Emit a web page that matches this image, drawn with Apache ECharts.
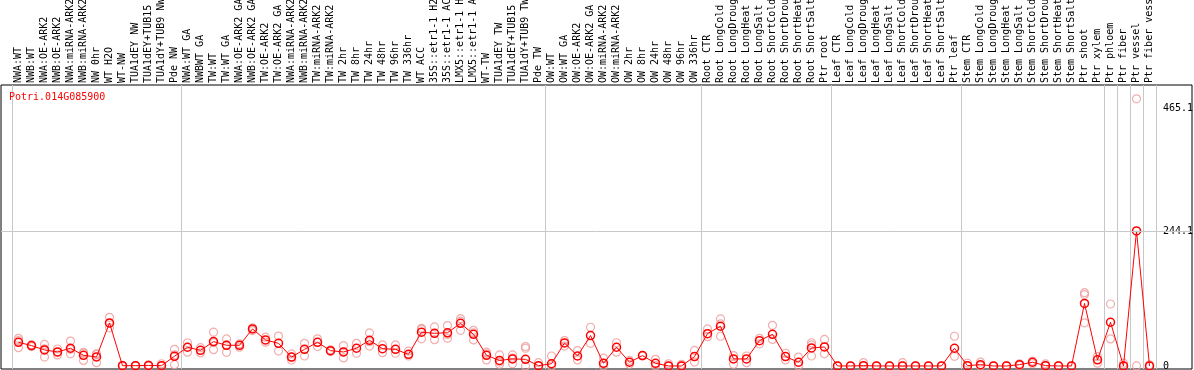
<!DOCTYPE html>
<html>
<head>
<meta charset="utf-8">
<script src="https://cdn.jsdelivr.net/npm/echarts@6/dist/echarts.min.js"></script>
<style>
  html, body { margin: 0; padding: 0; background: #fff; }
  #chart { width: 1194px; height: 370px; }
</style>
</head>
<body>
<div id="chart"></div>
<script>
// sample names, in plot order
var categories = [
  'NWA:WT', 'NWB:WT', 'NWA:OE-ARK2', 'NWB:OE-ARK2', 'NWA:miRNA-ARK2', 'NWB:miRNA-ARK2',
  'NW 0hr', 'WT H2O', 'WT-NW', 'TUA1dEY NW', 'TUA1dEY+TUB15 NW', 'TUA1dY+TUB9 NW', 'Pde NW',
  'NWA:WT GA', 'NWBWT GA', 'TW:WT', 'TW:WT GA', 'NWA:OE-ARK2 GA', 'NWB:OE-ARK2 GA',
  'TW:OE-ARK2', 'TW:OE-ARK2 GA', 'NWA:miRNA-ARK2 GA', 'NWB:miRNA-ARK2 GA', 'TW:miRNA-ARK2',
  'TW:miRNA-ARK2', 'TW 2hr', 'TW 8hr', 'TW 24hr', 'TW 48hr', 'TW 96hr', 'TW 336hr', 'WT ACC',
  '35S::etr1-1 H2O', '35S::etr1-1 ACC', 'LMX5::etr1-1 H2O', 'LMX5::etr1-1 ACC', 'WT-TW',
  'TUA1dEY TW', 'TUA1dEY+TUB15 TW', 'TUA1dY+TUB9 TW', 'Pde TW',
  'OW:WT', 'OW:WT GA', 'OW:OE-ARK2', 'OW:OE-ARK2 GA', 'OW:miRNA-ARK2', 'OW:miRNA-ARK2',
  'OW 2hr', 'OW 8hr', 'OW 24hr', 'OW 48hr', 'OW 96hr', 'OW 336hr',
  'Root CTR', 'Root LongCold', 'Root LongDrought', 'Root LongHeat', 'Root LongSalt',
  'Root ShortCold', 'Root ShortDrought', 'Root ShortHeat', 'Root ShortSalt', 'Ptr root',
  'Leaf CTR', 'Leaf LongCold', 'Leaf LongDrought', 'Leaf LongHeat', 'Leaf LongSalt',
  'Leaf ShortCold', 'Leaf ShortDrought', 'Leaf ShortHeat', 'Leaf ShortSalt', 'Ptr leaf',
  'Stem CTR', 'Stem LongCold', 'Stem LongDrought', 'Stem LongHeat', 'Stem LongSalt',
  'Stem ShortCold', 'Stem ShortDrought', 'Stem ShortHeat', 'Stem ShortSalt', 'Ptr shoot',
  'Ptr xylem', 'Ptr phloem', 'Ptr fiber', 'Ptr vessel', 'Ptr fiber vessel'
];

// index of the first sample of each study (gray separators)
var groupStarts = [0, 13, 41, 53, 63, 73, 84, 85, 86, 87];

// mean expression per sample
var means = [
  42.8, 36.8, 29, 25.3, 32, 19.3, 16.3, 77.8, 0.5, 0.5, 1, 0.5, 17.5,
  33.8, 28.3, 44, 37.4, 37.4, 67, 47, 41, 16, 30, 42.8, 27.7, 25.3, 32, 46.4,
  31.3, 30, 21, 61, 59, 60, 77, 57.3, 19.3, 10, 12.7, 12, 0.6,
  4, 41.6, 18, 55, 4.8, 33.8, 6.7, 18.7, 4.8, 0, 0, 17,
  58.4, 71.8, 12.7, 12.7, 45.8, 57.3, 17, 6.7, 32.5, 34.4,
  0, 0, 0.6, 0, 0, 0, 0, 0, 0, 32,
  0.6, 2.4, 0, 0, 2.4, 6.7, 0.6, 0, 0, 113, 11,
  79, 0, 244.1, 0
];

// individual replicates per sample
var replicates = [
  [50, 33, 46], [38, 35], [39, 16, 31], [30.7, 20, 25], [45, 22, 30], [24.7, 10, 23],
  [21, 6, 22], [88, 69, 77], [0, 1], [0, 1], [0, 2], [4, 0], [30, 2.4, 20],
  [42, 25], [33, 23.5], [61, 29.5, 42], [48.8, 24.7, 38], [40, 34], [69, 64], [52, 43],
  [54, 27], [21.7, 10.8, 16], [41, 18], [49, 35], [29, 26], [36.8, 14.5, 25], [41, 23],
  [59.7, 36, 44], [38, 24], [38, 23], [27, 18], [68, 49, 66], [70.5, 47.6], [73, 50, 57],
  [85.5, 64.5, 81], [64.5, 47, 60], [25, 11, 22], [20, 3, 7], [20, 4, 14], [35, 32, 0], [6, 0],
  [18, 0], [45.8, 36], [27.7, 11], [70, 41], [14, 0], [42, 25], [10, 3], [19, 18],
  [12, 0.6], [4, 0], [3, 0], [28, 7],
  [67, 53], [85, 53.7, 76], [18.7, 3], [18, 6], [50, 40], [73.5, 48], [23, 11],
  [16, 0.6], [42, 18, 38], [48, 22],
  [0], [0], [6, 0], [0], [0], [6, 0], [0], [0], [0], [53.7, 17.5],
  [5, 0], [7, 0], [0], [1], [4, 1], [9, 4], [3.6, 0], [1], [0], [132.5, 129, 78], [17, 5],
  [112, 48.8], [5, 0], [483, 0], [2, 0]
];

// value labels on the right edge
var yLabels = [0, 244.1, 465.1];
var gridValue = 244.1;
var geneId = 'Potri.014G085900';

var chart = echarts.init(document.getElementById('chart'));

var repPoints = [];
replicates.forEach(function (r, i) {
  r.forEach(function (v) { repPoints.push([i, v]); });
});

var isGroupStart = function (index) { return groupStarts.indexOf(index) >= 0; };
var mono = 'DejaVu Sans Mono';

chart.setOption({
  animation: false,
  title: {
    text: geneId,
    left: 4,
    top: 87,
    textStyle: { color: '#ff0000', fontSize: 10, fontWeight: 'normal', fontFamily: mono }
  },
  grid: [
    // outer frame
    { left: 1, right: 2, top: 85, bottom: 1, show: true, borderColor: '#000', borderWidth: 1,
      containLabel: false, outerBoundsMode: 'none' },
    // sample area
    { left: 12, right: 38, top: 85, bottom: 1, containLabel: false, outerBoundsMode: 'none' }
  ],
  xAxis: [
    { gridIndex: 0, type: 'value', min: 0, max: 1, show: false },
    {
      gridIndex: 1,
      type: 'category',
      data: categories,
      position: 'top',
      boundaryGap: true,
      axisLine: { show: false },
      axisTick: { show: true, interval: isGroupStart, length: 85, lineStyle: { color: '#c8c8c8' } },
      axisLabel: {
        interval: 0, rotate: 90, margin: 2, align: 'left', verticalAlign: 'middle',
        fontSize: 10, fontFamily: mono, color: '#000'
      },
      splitLine: { show: true, interval: isGroupStart, lineStyle: { color: '#c8c8c8', width: 1 } }
    }
  ],
  yAxis: [
    {
      gridIndex: 0,
      type: 'value',
      min: -5.5,
      max: 508,
      position: 'right',
      axisLine: { show: false },
      axisTick: { show: false },
      splitLine: { show: false },
      axisLabel: {
        inside: true,
        align: 'left',
        margin: 29,
        customValues: yLabels,
        fontSize: 10,
        fontFamily: mono,
        color: '#000'
      }
    },
    { gridIndex: 1, type: 'value', min: -5.5, max: 508, show: false }
  ],
  series: [
    {
      type: 'line',
      xAxisIndex: 0,
      yAxisIndex: 0,
      data: [],
      markLine: {
        silent: true,
        symbol: 'none',
        label: { show: false },
        lineStyle: { color: '#c8c8c8', type: 'solid', width: 1 },
        data: [{ yAxis: gridValue }]
      }
    },
    {
      type: 'scatter',
      xAxisIndex: 1,
      yAxisIndex: 1,
      data: repPoints,
      symbol: 'circle',
      symbolSize: 8,
      itemStyle: { color: 'none', borderColor: '#ee9a9a', borderWidth: 1.2 },
      z: 2
    },
    {
      type: 'line',
      xAxisIndex: 1,
      yAxisIndex: 1,
      data: means,
      symbol: 'circle',
      symbolSize: 8,
      showAllSymbol: true,
      lineStyle: { color: '#ff0000', width: 1 },
      itemStyle: { color: 'none', borderColor: '#ff0000', borderWidth: 1.5 },
      z: 3
    }
  ]
});
</script>
</body>
</html>
